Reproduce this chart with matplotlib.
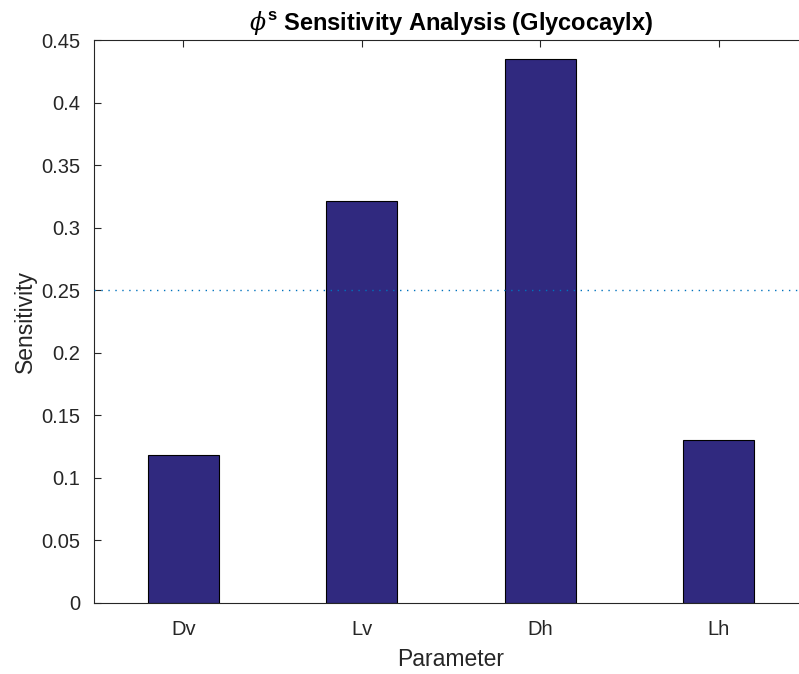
import matplotlib
matplotlib.use("Agg")
import matplotlib.pyplot as plt

params = ["Dv", "Lv", "Dh", "Lh"]
sensitivity = [0.118, 0.321, 0.435, 0.130]
threshold = 0.25
yticks = [0, 0.05, 0.1, 0.15, 0.2, 0.25, 0.3, 0.35, 0.4, 0.45]
ytick_labels = ["0", "0.05", "0.1", "0.15", "0.2", "0.25", "0.3", "0.35", "0.4", "0.45"]

plt.rcParams["font.family"] = ["Liberation Sans", "DejaVu Sans"]
plt.rcParams["mathtext.fontset"] = "custom"
plt.rcParams["mathtext.rm"] = "Liberation Sans"
plt.rcParams["mathtext.bf"] = "Liberation Sans:bold"
plt.rcParams["mathtext.it"] = "DejaVu Serif:italic"

txt = "#262626"
fig = plt.figure(figsize=(7.99, 6.74), dpi=100)
# axes runs past the right edge, like the cropped original
ax = fig.add_axes([94 / 799, 71 / 674, 714 / 799, 563 / 674])

x = list(range(1, len(params) + 1))
ax.bar(x, sensitivity, width=0.4, color="#30297f", edgecolor="black", linewidth=0.8, zorder=2)
ax.axhline(threshold, color="#0072bd", linestyle=(0, (1, 4)), linewidth=1.0, zorder=3)

ax.set_xlim(0.5, 4.5)
ax.set_ylim(0, 0.45)
ax.set_xticks(x)
ax.set_xticklabels(params)
ax.set_yticks(yticks)
ax.set_yticklabels(ytick_labels)
ax.tick_params(direction="in", length=5, width=0.8, colors="#262626",
               labelsize=14.5, top=True, right=True)
ax.tick_params(axis="y", pad=10)
ax.tick_params(axis="x", pad=12)
for s in ax.spines.values():
    s.set_color("#262626")
    s.set_linewidth(0.8)

ax.set_xlabel("Parameter", fontsize=16.5, color=txt, labelpad=7)
ax.set_ylabel("Sensitivity", fontsize=16.5, color=txt, labelpad=3)
ax.set_title(r"$\phi^{\mathbf{s}}$ Sensitivity Analysis (Glycocaylx)",
             fontsize=17, fontweight="bold", color="black", pad=7)

fig.savefig("out.png", dpi=100)
